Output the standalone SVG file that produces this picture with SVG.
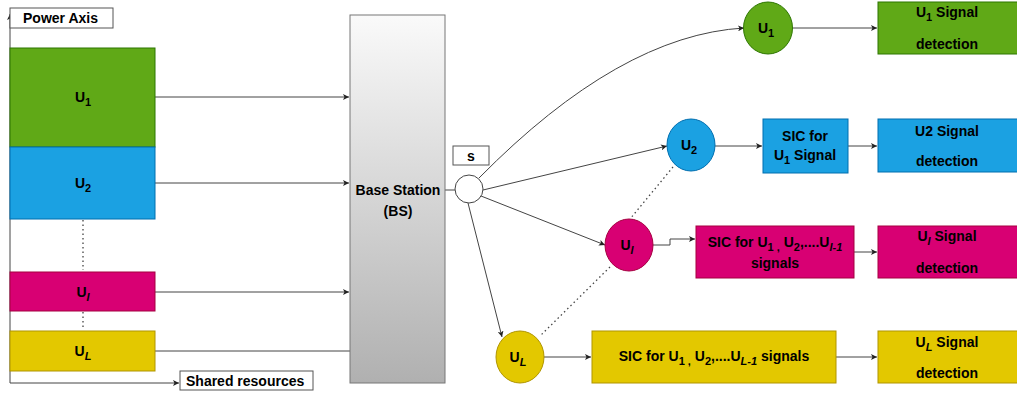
<svg xmlns="http://www.w3.org/2000/svg" width="1017" height="394" viewBox="0 0 1017 394">
<style>
text{font-family:"Liberation Sans",Arial,sans-serif;font-weight:bold;font-size:14px;fill:#000}
.c{text-anchor:middle}
.sub{font-size:11px}
.it{font-style:italic}
.ln{fill:none;stroke:#444;stroke-width:1}
.dot{fill:none;stroke:#444;stroke-width:1.3;stroke-dasharray:1.5 3}
.g{fill:#60A917;stroke:#2D7600}
.b{fill:#1BA1E2;stroke:#006EAF}
.m{fill:#D80073;stroke:#A50040}
.y{fill:#E3C800;stroke:#B09500}
.w{fill:#fff;stroke:#555}
</style>
<defs>
<marker id="ah" markerWidth="7" markerHeight="6" refX="6" refY="3" orient="auto" markerUnits="userSpaceOnUse">
<path d="M0,0 L6,3 L0,6 L1.5,3 Z" fill="#222"/>
</marker>
<linearGradient id="bsg" x1="0" y1="0" x2="0" y2="1">
<stop offset="0" stop-color="#fafafa"/>
<stop offset="1" stop-color="#b0b0b0"/>
</linearGradient>
</defs>
<g id="connectors">
<path class="ln" d="M10,383 V14" marker-end="url(#ah)"/>
<path class="ln" d="M10,383 H179" marker-end="url(#ah)"/>
<path class="dot" d="M83,220 V270"/>
<path class="dot" d="M83,312 V330"/>
<path class="ln" d="M155,97 H349" marker-end="url(#ah)"/>
<path class="ln" d="M155,183 H349" marker-end="url(#ah)"/>
<path class="ln" d="M155,292 H349" marker-end="url(#ah)"/>
<path class="ln" d="M155,351 H350"/>
<path class="ln" d="M445,190 H455"/>
<path class="ln" d="M479,178 Q620,35 744,28" marker-end="url(#ah)"/>
<path class="ln" d="M483,190 L667,146" marker-end="url(#ah)"/>
<path class="ln" d="M481,196 L605,245" marker-end="url(#ah)"/>
<path class="ln" d="M468,203 L502,337" marker-end="url(#ah)"/>
<path class="dot" d="M673,167 L630,219"/>
<path class="dot" d="M610,267 L540,336"/>
<path class="ln" d="M793,28 H877" marker-end="url(#ah)"/>
<path class="ln" d="M715,146 H762" marker-end="url(#ah)"/>
<path class="ln" d="M848,146 H877" marker-end="url(#ah)"/>
<path class="ln" d="M653,245 H670 V239 H695" marker-end="url(#ah)"/>
<path class="ln" d="M854,252 H877" marker-end="url(#ah)"/>
<path class="ln" d="M544,357 H591" marker-end="url(#ah)"/>
<path class="ln" d="M836,357 H877" marker-end="url(#ah)"/>
</g>
<g id="power-axis-label">
<rect class="w" x="10" y="8" width="103" height="20"/>
<text x="23" y="23">Power Axis</text>
</g>
<g id="shared-resources-label">
<rect class="w" x="180" y="371" width="133" height="19"/>
<text x="186" y="386">Shared resources</text>
</g>
<g id="u1-res">
<rect class="g" x="10" y="48" width="145" height="99"/>
<text class="c" x="83" y="102">U<tspan class="sub" dy="4">1</tspan></text>
</g>
<g id="u2-res">
<rect class="b" x="10" y="147" width="145" height="72"/>
<text class="c" x="83" y="188">U<tspan class="sub" dy="4">2</tspan></text>
</g>
<g id="ul-res">
<rect class="m" x="10" y="272" width="145" height="39"/>
<text class="c" x="83" y="297">U<tspan class="sub it" dy="4">l</tspan></text>
</g>
<g id="uL-res">
<rect class="y" x="10" y="331" width="145" height="40"/>
<text class="c" x="83" y="356">U<tspan class="sub it" dy="4">L</tspan></text>
</g>
<g id="bs">
<rect x="350" y="15" width="95" height="368" fill="url(#bsg)" stroke="#777"/>
<text class="c" x="398" y="195">Base Station</text>
<text class="c" x="398" y="216">(BS)</text>
</g>
<g id="s-node">
<rect class="w" x="453" y="146" width="36" height="19"/>
<text class="c" x="471" y="161">s</text>
<circle cx="469" cy="189" r="14" fill="#fff" stroke="#444"/>
</g>
<g id="u1-node">
<ellipse class="g" cx="768" cy="28" rx="24.5" ry="26"/>
<text class="c" x="766" y="33">U<tspan class="sub" dy="4">1</tspan></text>
</g>
<g id="u2-node">
<ellipse class="b" cx="691" cy="145" rx="24" ry="26"/>
<text class="c" x="689" y="150">U<tspan class="sub" dy="4">2</tspan></text>
</g>
<g id="ul-node">
<ellipse class="m" cx="629" cy="245" rx="24" ry="26"/>
<text class="c" x="627" y="250">U<tspan class="sub it" dy="4">l</tspan></text>
</g>
<g id="uL-node">
<ellipse class="y" cx="520" cy="357" rx="24" ry="26"/>
<text class="c" x="518" y="362">U<tspan class="sub it" dy="4">L</tspan></text>
</g>
<g id="u1-detect">
<rect class="g" x="878" y="2" width="145" height="52"/>
<text class="c" x="947" y="17">U<tspan class="sub" dy="4">1</tspan><tspan dy="-4"> Signal</tspan></text>
<text class="c" x="947" y="49">detection</text>
</g>
<g id="sic-u2">
<rect class="b" x="763" y="119" width="85" height="54"/>
<text class="c" x="805" y="141">SIC for</text>
<text class="c" x="805" y="160">U<tspan class="sub" dy="4">1</tspan><tspan dy="-4"> Signal</tspan></text>
</g>
<g id="u2-detect">
<rect class="b" x="878" y="119" width="145" height="53"/>
<text class="c" x="947" y="136">U2 Signal</text>
<text class="c" x="947" y="166">detection</text>
</g>
<g id="sic-ul">
<rect class="m" x="696" y="226" width="158" height="52"/>
<text class="c" x="775" y="247">SIC for U<tspan class="sub" dy="4">1 ,</tspan><tspan dy="-4"> U</tspan><tspan class="sub" dy="4">2</tspan><tspan dy="-4">,....U</tspan><tspan class="sub it" dy="4">l-1</tspan></text>
<text class="c" x="775" y="268">signals</text>
</g>
<g id="ul-detect">
<rect class="m" x="878" y="226" width="145" height="52"/>
<text class="c" x="947" y="241">U<tspan class="sub it" dy="4">l</tspan><tspan dy="-4"> Signal</tspan></text>
<text class="c" x="947" y="273">detection</text>
</g>
<g id="sic-uL">
<rect class="y" x="592" y="331" width="244" height="52"/>
<text class="c" x="714" y="361">SIC for U<tspan class="sub" dy="4">1 ,</tspan><tspan dy="-4"> U</tspan><tspan class="sub" dy="4">2</tspan><tspan dy="-4">,....U</tspan><tspan class="sub it" dy="4">L-1</tspan><tspan dy="-4"> signals</tspan></text>
</g>
<g id="uL-detect">
<rect class="y" x="878" y="331" width="145" height="52"/>
<text class="c" x="947" y="347">U<tspan class="sub it" dy="4">L</tspan><tspan dy="-4"> Signal</tspan></text>
<text class="c" x="947" y="378">detection</text>
</g>
</svg>
